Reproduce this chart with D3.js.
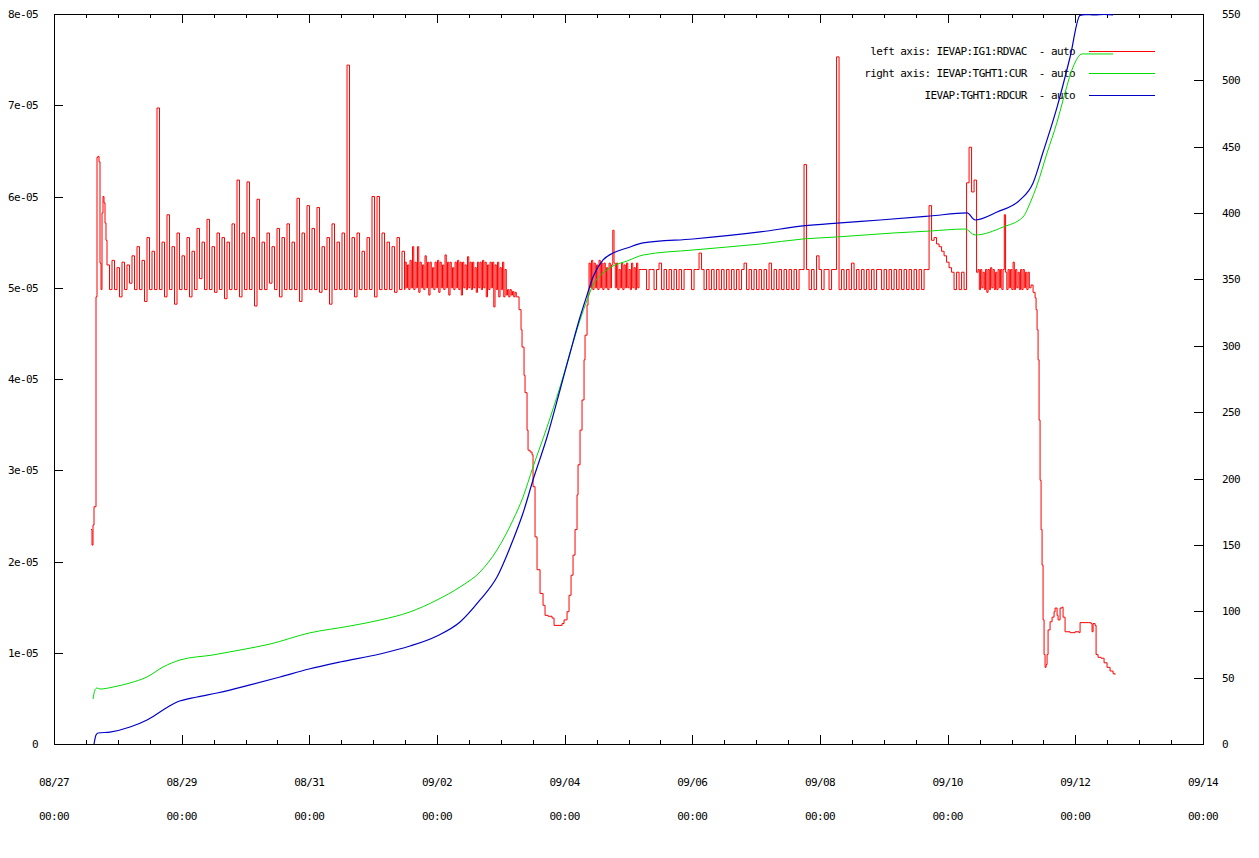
<!DOCTYPE html>
<html><head><meta charset="utf-8">
<script src="https://cdn.jsdelivr.net/npm/d3@7"></script>
<style>
html,body{margin:0;padding:0;background:#fff;}
svg{display:block;background:#fff;}
text{font-family:"DejaVu Sans Mono",monospace;font-size:11px;letter-spacing:-0.6px;fill:#000;}
</style></head><body>
<svg id="c" width="1259" height="858"></svg>
<script>
// ---------- axis / tick data ----------
const xMajorDays = [0,2,4,6,8,10,12,14,16,18];
const xTickDates = ["08/27","08/29","08/31","09/02","09/04","09/06","09/08","09/10","09/12","09/14"];
const xTickTimes = ["00:00","00:00","00:00","00:00","00:00","00:00","00:00","00:00","00:00","00:00"];
const xMinorDays = [0.5,1,1.5,2.5,3,3.5,4.5,5,5.5,6.5,7,7.5,8.5,9,9.5,10.5,11,11.5,12.5,13,13.5,14.5,15,15.5,16.5,17,17.5];
const leftTicks = [0,1e-5,2e-5,3e-5,4e-5,5e-5,6e-5,7e-5,8e-5];
const leftTickLabels = ["0","1e-05","2e-05","3e-05","4e-05","5e-05","6e-05","7e-05","8e-05"];
const rightTicks = [0,50,100,150,200,250,300,350,400,450,500,550];
const legendLabels = ["left axis: IEVAP:IG1:RDVAC  - auto","right axis: IEVAP:TGHT1:CUR  - auto","IEVAP:TGHT1:RDCUR  - auto"];
const redColor = "#ff0000", greenColor = "#00dd00", blueColor = "#0000c8";

// ---------- red series: IEVAP:IG1:RDVAC (days since 08/27 00:00, value in 1e-5) ----------
const redHead = [[0.5797,2.35],[0.5953,2.18],[0.6110,2.40],[0.6267,2.60],[0.6580,4.90],[0.6737,6.43],[0.6893,6.44],[0.7050,6.38],[0.7207,5.27],[0.7363,4.98],[0.7520,5.82],[0.7677,6.00],[0.7833,5.93],[0.7990,5.71],[0.8146,5.52]];
const redSeg1Start = 0.8303, redSeg1Step = 0.039167;
const redSeg1Values = [5.25,4.98,5.30,4.98,5.22,4.90,5.28,4.98,5.25,5.05,5.35,4.98,5.45,4.98,5.30,4.85,5.55,4.98,5.40,4.98,
6.97,4.98,5.50,4.90,5.80,4.98,5.45,4.82,5.60,4.98,5.35,4.98,5.55,4.90,5.40,4.98,5.65,5.10,5.50,4.98,
5.75,4.98,5.45,4.95,5.60,4.98,5.55,4.88,5.50,4.98,5.70,4.98,6.18,4.90,5.60,4.98,6.16,4.98,5.55,4.80,
5.97,4.98,5.50,4.98,5.60,5.05,5.45,4.98,5.65,4.90,5.55,4.98,5.70,4.98,5.50,4.98,5.98,4.85,5.60,4.98,
5.90,4.98,5.65,4.98,5.88,4.95,5.45,4.98,5.55,4.82,5.70,4.98,5.50,4.98,5.60,4.98,7.44,4.98,5.55,4.90,
5.60,4.98,5.40,4.98,5.55,4.98,6.00,4.90,6.00,4.98,5.60,4.98,5.50,4.98,5.45,4.95,5.55,4.98,5.40,4.98];
const redSeg2Start = 5.4990, redSeg2Step = 0.019583;
const redSeg2Values = [5.28,5.00,5.25,4.98,5.30,5.00,5.45,4.98,5.28,5.00,5.45,4.95,5.28,5.00,5.25,4.98,5.35,5.00,5.28,4.92,
5.28,5.00,5.22,4.98,5.28,5.00,5.30,4.95,5.28,5.00,5.25,4.98,5.36,5.00,5.28,4.92,5.28,5.00,5.22,4.98,
5.28,5.00,5.30,4.98,5.28,4.92,5.28,5.00,5.25,4.98,5.34,5.00,5.28,4.98,5.28,5.00,5.22,4.95,5.28,5.00,
5.28,4.98,5.30,5.00,5.28,4.90,5.25,4.98,5.28,5.00,5.28,4.79,5.25,4.98,5.28,4.90,5.22,4.98,5.28,4.90,
5.20,4.92,4.98,4.90,4.98,4.92,4.96,4.90,4.95,4.90];
const redDrop1 = [[7.2538,4.90],[7.2852,4.76],[7.3165,4.54],[7.3322,4.35],[7.3635,4.04],[7.3792,3.85],[7.4105,3.44],[7.4262,3.22],[7.4575,3.20],[7.4888,3.17],[7.5045,2.82],[7.5358,2.27],[7.5672,1.91],[7.6142,1.65],[7.6612,1.52],[7.6925,1.41],[7.7395,1.40],[7.8022,1.38],[7.8335,1.30],[7.8962,1.30],[7.9588,1.32],[7.9902,1.36],[8.0372,1.45],[8.0685,1.63],[8.0998,1.85],[8.1312,2.07],[8.1625,2.35],[8.1938,2.73],[8.2095,3.06],[8.2408,3.44],[8.2722,3.77],[8.3035,4.21],[8.3192,4.48],[8.3505,4.81],[8.3662,4.92]];
const redSeg3aStart = 8.3818, redSeg3aStep = 0.019583;
const redSeg3aValues = [5.27,5.00,5.30,4.98,5.27,5.00,5.25,4.98,5.30,5.00,5.27,4.98,5.27,5.00,5.22,4.98,5.27,5.00,5.25,5.63,
5.27,5.00,5.27,4.98,5.20,5.00,5.27,4.98,5.25,5.00,5.27,5.00,5.20,4.98,5.27,5.00,5.22,4.98,5.27,5.00,5.20];
const redSeg3bStart = 9.2044, redSeg3bStep = 0.039167;
const redSeg3bValues = [5.20,5.20,4.98,5.20,5.20,4.98,5.20,5.27,4.98,5.20,4.98,5.20,4.98,5.20,4.98,5.20,4.98,5.20,5.20,5.20,
4.98,5.20,5.20,5.38,5.20,4.98,5.20,4.98,5.20,4.98,5.20,4.98,5.20,4.98,5.20,4.98,5.20,4.98,5.20,4.98,
5.20,5.27,4.98,5.20,4.98,5.20,4.98,5.20,4.98,5.20,4.98,5.27,4.98,5.20,4.98,5.20,4.98,5.20,4.98,5.20,
4.98,5.20,4.98,5.20,5.20,6.35,5.20,4.98,5.20,4.98,5.35,5.20,4.98,5.20,5.20,4.98,5.20,5.20,7.53,4.98,
5.20,4.98,5.20,4.98,5.27,4.98,5.20,4.98,5.20,4.98,5.20,4.98,5.20,4.98,5.20,5.20,4.98,5.20,4.98,5.20,
4.98,5.20,4.98,5.20,4.98,5.20,4.98,5.20,4.98,5.20,4.98,5.20,4.98,5.20,5.20,5.90,5.52,5.55,5.48,5.45,
5.40,5.35,5.28,5.22,5.17,4.98,5.17,4.98,5.17,4.98,6.15,6.54,6.05,6.18,5.17];
const redSeg3cStart = 14.4763, redSeg3cStep = 0.019583;
const redSeg3cValues = [5.20,4.98,5.20,5.00,5.17,4.98,5.20,4.95,5.20,4.98,5.22,5.00,5.20,4.98,5.17,4.98,5.20,5.00,5.20,4.98,
5.20,5.80,5.17,4.98,5.20,5.00,5.20,4.98,5.28,4.98,5.20,5.00,5.17,4.98,5.20,4.98,5.20,5.00,5.17,4.98,5.17,5.00];
const redDrop2 = [[15.3067,5.03],[15.3380,4.95],[15.3693,4.89],[15.3850,4.76],[15.4007,4.54],[15.4163,4.21],[15.4320,3.55],[15.4477,2.89],[15.4633,2.35],[15.4790,1.96],[15.4947,1.36],[15.5103,0.98],[15.5260,0.84],[15.5417,0.87],[15.5573,0.98],[15.5730,1.25],[15.6043,1.34],[15.6357,1.39],[15.6670,1.45],[15.6827,1.49],[15.7140,1.41],[15.7297,1.36],[15.7610,1.49],[15.7923,1.50],[15.8080,1.39],[15.8393,1.23],[15.9177,1.22],[15.9960,1.23],[16.0587,1.22],[16.0743,1.33],[16.1997,1.33],[16.2467,1.32],[16.2623,1.23],[16.2780,1.32],[16.3093,1.30],[16.3250,0.98],[16.3563,0.95],[16.4033,0.94],[16.4503,0.89],[16.4973,0.84],[16.5443,0.80],[16.5913,0.77],[16.6227,0.76]];

// ---------- green series: IEVAP:TGHT1:CUR (right axis) ----------
const greenData = [[0.611,33.9],[0.642,40.7],[0.674,42.2],[0.721,41.4],[0.924,42.9],[1.191,46.0],[1.457,50.5],[1.708,58.0],[1.974,63.3],[2.491,67.1],[2.914,70.8],[3.384,75.3],[3.995,83.6],[4.637,88.9],[5.107,93.4],[5.577,99.5],[6.000,108.5],[6.361,118.3],[6.674,129.6],[6.940,146.2],[7.191,168.8],[7.348,186.1],[7.504,208.7],[7.724,238.8],[7.927,269.0],[8.084,294.6],[8.241,319.5],[8.351,334.5],[8.444,345.8],[8.601,354.9],[8.758,360.1],[8.977,363.9],[9.228,368.4],[10.011,372.2],[11.061,376.7],[11.735,380.5],[12.267,382.0],[13.145,385.0],[13.724,386.5],[14.273,388.0],[14.429,383.5],[14.868,389.5],[15.181,397.1],[15.291,407.6],[15.401,421.2],[15.557,445.3],[15.714,468.6],[15.808,485.2],[15.965,510.1],[16.105,519.9],[16.591,519.9]];

// ---------- blue series: IEVAP:TGHT1:RDCUR (right axis) ----------
const blueData = [[0.627,0.0],[0.658,6.8],[0.689,8.3],[0.877,9.0],[1.191,12.8],[1.457,18.1],[1.708,25.6],[1.927,31.6],[2.240,35.4],[2.554,38.4],[3.071,44.5],[3.541,50.5],[3.995,56.5],[4.481,61.8],[5.107,67.8],[5.577,73.8],[6.000,81.4],[6.361,91.9],[6.674,108.5],[6.940,125.8],[7.191,153.7],[7.348,174.0],[7.504,198.9],[7.724,231.3],[7.927,266.7],[8.084,294.6],[8.241,321.7],[8.351,338.3],[8.444,351.8],[8.601,364.7],[8.758,369.9],[8.977,373.7],[9.228,377.5],[10.011,380.5],[11.061,385.8],[11.735,390.3],[12.267,392.5],[12.941,394.8],[13.724,397.8],[14.304,400.1],[14.429,394.8],[14.774,400.8],[15.134,409.9],[15.338,422.7],[15.495,446.0],[15.714,479.9],[15.918,517.6],[16.074,549.0],[16.153,549.6],[16.300,549.3],[16.450,549.7],[16.591,549.4]];

// ---------- assemble red ----------
function sampled(start, step, vals){ return vals.map((v,i)=>[start+i*step, v]); }
const redData = [].concat(
  redHead,
  sampled(redSeg1Start, redSeg1Step, redSeg1Values),
  sampled(redSeg2Start, redSeg2Step, redSeg2Values),
  redDrop1,
  sampled(redSeg3aStart, redSeg3aStep, redSeg3aValues),
  sampled(redSeg3bStart, redSeg3bStep, redSeg3bValues),
  sampled(redSeg3cStart, redSeg3cStep, redSeg3cValues),
  redDrop2
).map(d=>[d[0], d[1]*1e-5]);

// ---------- layout ----------
const L = 54, R = 1203, T = 14, B = 744;
const svg = d3.select("#c");
svg.append("rect").attr("width",1259).attr("height",858).attr("fill","#fff");

const x = d3.scaleLinear().domain([0,18]).range([L,R]);
const yL = d3.scaleLinear().domain([0,8e-5]).range([B,T]);
const yR = d3.scaleLinear().domain([0,550]).range([B,T]);

function styleAxis(g){
  g.select(".domain").remove();
  g.selectAll(".tick line").attr("stroke","#000").attr("stroke-width",1).attr("shape-rendering","crispEdges");
  g.attr("font-family",null).attr("font-size",null);
}

svg.append("g").attr("transform",`translate(0,${B})`)
  .call(d3.axisBottom(x).tickValues(xMajorDays).tickSize(-9).tickFormat(""))
  .call(styleAxis);
svg.append("g").attr("transform",`translate(0,${B})`)
  .call(d3.axisBottom(x).tickValues(xMinorDays).tickSize(-4).tickFormat(""))
  .call(styleAxis);
svg.append("g").attr("transform",`translate(0,${T})`)
  .call(d3.axisTop(x).tickValues(xMajorDays).tickSize(-9).tickFormat(""))
  .call(styleAxis);
svg.append("g").attr("transform",`translate(0,${T})`)
  .call(d3.axisTop(x).tickValues(xMinorDays).tickSize(-4).tickFormat(""))
  .call(styleAxis);
svg.append("g").attr("transform",`translate(${L},0)`)
  .call(d3.axisLeft(yL).tickValues(leftTicks).tickSize(-9).tickPadding(16).tickFormat((d,i)=>leftTickLabels[i]))
  .call(styleAxis);
svg.append("g").attr("transform",`translate(${R},0)`)
  .call(d3.axisRight(yR).tickValues(rightTicks).tickSize(-9).tickPadding(19).tickFormat(d3.format("d")))
  .call(styleAxis);

const xl = svg.append("g");
xl.selectAll("text.d").data(xMajorDays).join("text").attr("class","d")
  .attr("x",d=>x(d)).attr("y",786).attr("text-anchor","middle").text((d,i)=>xTickDates[i]);
xl.selectAll("text.t").data(xMajorDays).join("text").attr("class","t")
  .attr("x",d=>x(d)).attr("y",820).attr("text-anchor","middle").text((d,i)=>xTickTimes[i]);

svg.append("rect").attr("x",L).attr("y",T).attr("width",R-L).attr("height",B-T)
  .attr("fill","none").attr("stroke","#000").attr("stroke-width",1).attr("shape-rendering","crispEdges");

// legend text
const legY = [51,73,95];
svg.append("g").selectAll("text").data(legendLabels).join("text")
  .attr("x",1075).attr("y",(d,i)=>legY[i]+4).attr("text-anchor","end")
  .style("white-space","pre").text(d=>d);

// data
svg.append("clipPath").attr("id","plotclip").append("rect")
  .attr("x",L).attr("y",T).attr("width",R-L).attr("height",B-T);
const plot = svg.append("g").attr("clip-path","url(#plotclip)");
const lineL = d3.line().curve(d3.curveStepAfter).x(d=>x(d[0])).y(d=>yL(d[1]));
const lineR = d3.line().curve(d3.curveMonotoneX).x(d=>x(d[0])).y(d=>yR(d[1]));
plot.append("path").datum(redData).attr("d",lineL).attr("fill","none").attr("stroke",redColor).attr("stroke-width",1);
plot.append("path").datum(greenData).attr("d",lineR).attr("fill","none").attr("stroke",greenColor).attr("stroke-width",1);
plot.append("path").datum(blueData).attr("d",lineR).attr("fill","none").attr("stroke",blueColor).attr("stroke-width",1.2);

// legend samples
const leg = svg.append("g");
leg.append("line").attr("x1",1089).attr("x2",1155).attr("y1",legY[0]+0.5).attr("y2",legY[0]+0.5).attr("stroke",redColor).attr("stroke-width",1);
leg.append("line").attr("x1",1089).attr("x2",1155).attr("y1",legY[1]+0.5).attr("y2",legY[1]+0.5).attr("stroke",greenColor).attr("stroke-width",1);
leg.append("line").attr("x1",1089).attr("x2",1155).attr("y1",legY[2]+0.5).attr("y2",legY[2]+0.5).attr("stroke",blueColor).attr("stroke-width",1);
</script>
</body></html>
